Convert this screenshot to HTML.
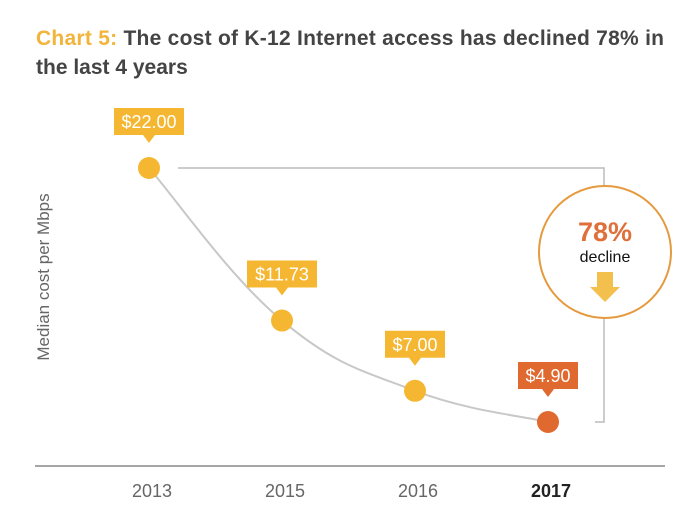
<!DOCTYPE html>
<html><head><meta charset="utf-8"><style>
body{margin:0;background:#fff;}
svg{display:block;font-family:"Liberation Sans",sans-serif;}
</style></head><body>
<svg width="700" height="522" viewBox="0 0 700 522">
<text x="36" y="45" font-size="21" font-weight="bold" fill="#444" textLength="628"><tspan fill="#f2b43a">Chart 5:</tspan> The cost of K-12 Internet access has declined 78% in</text>
<text x="36" y="74" font-size="21" font-weight="bold" fill="#444">the last 4 years</text>
<text transform="translate(49,277) rotate(-90)" text-anchor="middle" font-size="17" fill="#666">Median cost per Mbps</text>
<line x1="35" y1="466" x2="665" y2="466" stroke="#888" stroke-width="1.5"/>
<path d="M178 168 H604 V186 M604 318 V422 H595" fill="none" stroke="#bbb" stroke-width="1.5"/>
<circle cx="605" cy="252" r="66" fill="#fff" stroke="#e59a3f" stroke-width="2"/>
<text x="605" y="241" text-anchor="middle" font-size="27" font-weight="bold" fill="#e0703a">78%</text>
<text x="605" y="262" text-anchor="middle" font-size="16" fill="#111">decline</text>
<path d="M597 272 H613 V287 H620 L605 302 L590 287 H597 Z" fill="#f3c04e"/>
<g id="plot"></g>
</svg>
<script>
const categories=["2013","2015","2016","2017"];
const values=[22.00,11.73,7.00,4.90];
const labels=["$22.00","$11.73","$7.00","$4.90"];
const NS="http://www.w3.org/2000/svg";
const g=document.getElementById('plot');
function xs(i){return 149+i*133;}
function ys(v){return 422-(v-4.9)*(254/17.1);}
function mk(t,a){const e=document.createElementNS(NS,t);for(const k in a)e.setAttribute(k,a[k]);g.appendChild(e);return e;}
const pts=values.map((v,i)=>[xs(i),ys(v)]);
let d='M'+pts[0][0]+' '+pts[0][1];
for(let i=0;i<pts.length-1;i++){
  const p0=pts[Math.max(0,i-1)],p1=pts[i],p2=pts[i+1],p3=pts[Math.min(pts.length-1,i+2)],k=0.2;
  d+=` C${p1[0]+(p2[0]-p0[0])*k} ${p1[1]+(p2[1]-p0[1])*k} ${p2[0]-(p3[0]-p1[0])*k} ${p2[1]-(p3[1]-p1[1])*k} ${p2[0]} ${p2[1]}`;
}
const line=mk('path',{d:d,fill:'none',stroke:'#c8c8c8','stroke-width':2});


values.forEach((v,i)=>{
  const x=xs(i),y=ys(v),last=i===values.length-1,col=last?'#e0692f':'#f5b731';
  const c=mk('circle',{cx:x,cy:y,r:11,fill:col});
  
  
  const w=labels[i].length*10+10,by=y-60;
  const b=mk('path',{d:`M${x-w/2} ${by} h${w} v27 h${-w/2+6} l-6 8 l-6 -8 h${-w/2+6} Z`,fill:col});
  
  
  const t=mk('text',{x:x,y:by+20,'text-anchor':'middle','font-size':18,fill:'#fff'});
  t.textContent=labels[i];
  
  
  const tk=mk('text',{x:x+3,y:497,'text-anchor':'middle','font-size':18,fill:last?'#222':'#666','font-weight':last?'bold':'normal'});
  tk.textContent=categories[i];
  
  
});
</script>
</body></html>
